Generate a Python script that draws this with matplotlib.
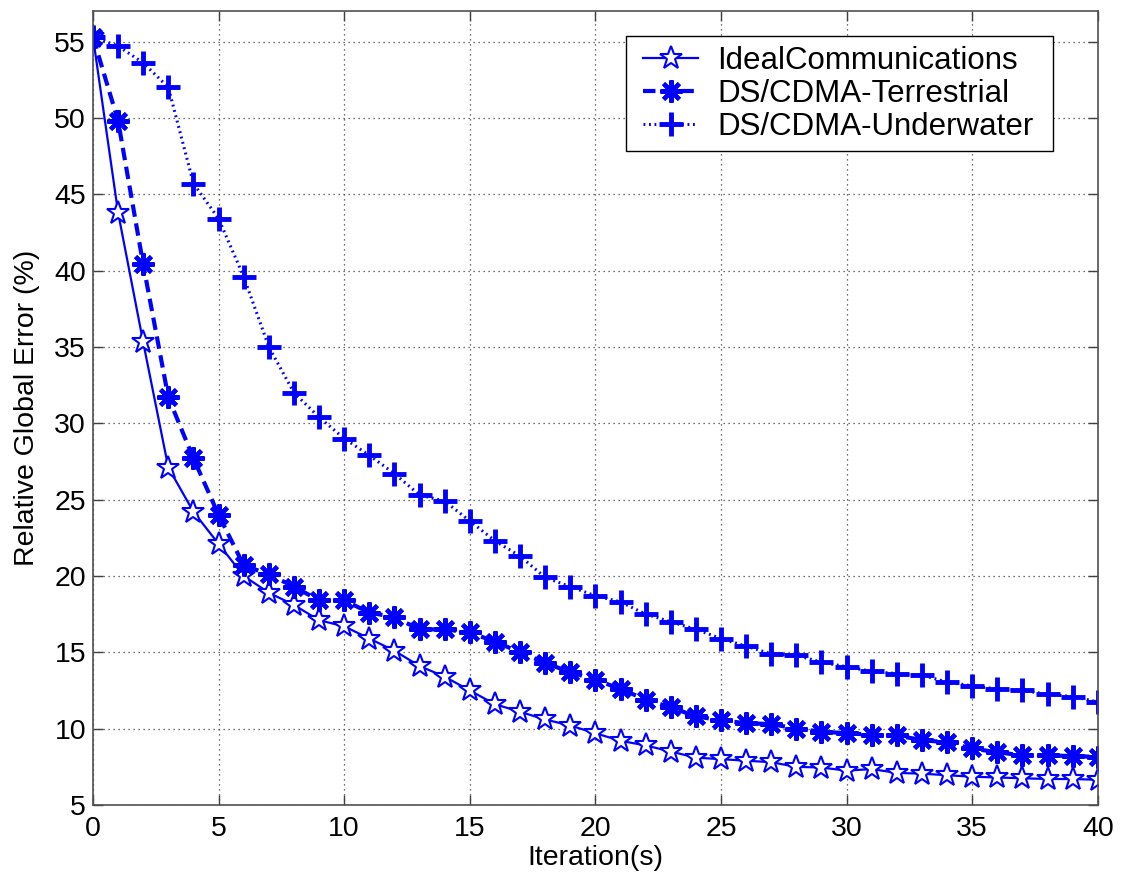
import matplotlib
matplotlib.use("Agg")
import matplotlib.pyplot as plt
from matplotlib.path import Path

plt.rcParams['font.family'] = ['Liberation Sans', 'DejaVu Sans']

iterations = list(range(0, 41))

ideal = [55.3, 43.8, 35.3, 27.1, 24.2, 22.1, 20.0, 18.9, 18.1, 17.1,
         16.7, 15.9, 15.1, 14.1, 13.4, 12.5, 11.6, 11.1, 10.6, 10.2,
         9.7, 9.2, 8.9, 8.5, 8.1, 8.0, 7.9, 7.8, 7.5, 7.45,
         7.25, 7.35, 7.1, 7.05, 6.95, 6.85, 6.8, 6.75, 6.7, 6.7, 6.65]

terrestrial = [55.3, 49.8, 40.4, 31.7, 27.7, 24.0, 20.7, 20.1, 19.3, 18.4,
               18.4, 17.6, 17.3, 16.5, 16.5, 16.3, 15.7, 15.0, 14.3, 13.7,
               13.2, 12.6, 11.9, 11.4, 10.8, 10.55, 10.35, 10.3, 10.0, 9.8,
               9.7, 9.6, 9.55, 9.25, 9.1, 8.7, 8.45, 8.25, 8.25, 8.2, 8.15]

underwater = [55.3, 54.7, 53.6, 52.0, 45.7, 43.4, 39.6, 35.0, 32.0, 30.4,
              29.0, 27.9, 26.7, 25.3, 24.9, 23.6, 22.3, 21.3, 19.9, 19.3,
              18.7, 18.3, 17.5, 17.0, 16.5, 15.9, 15.4, 14.9, 14.8, 14.35,
              14.05, 13.75, 13.6, 13.5, 13.05, 12.8, 12.6, 12.5, 12.25, 12.1, 11.75]

series_labels = ['IdealCommunications', 'DS/CDMA-Terrestrial', 'DS/CDMA-Underwater']
x_ticks = [0, 5, 10, 15, 20, 25, 30, 35, 40]
y_ticks = [5, 10, 15, 20, 25, 30, 35, 40, 45, 50, 55]

blue = '#0000ff'


def wide_box(x0, y0, width, height, mutation_size):
    """Rectangular legend frame with extra room on the left and right."""
    left = x0 - 0.25 * mutation_size
    right = x0 + width + 0.33 * mutation_size
    top = y0 + height
    verts = [(left, y0), (right, y0), (right, top), (left, top), (left, y0)]
    codes = [Path.MOVETO, Path.LINETO, Path.LINETO, Path.LINETO, Path.CLOSEPOLY]
    return Path(verts, codes)


fig = plt.figure(figsize=(11.24, 8.84), dpi=100)
ax = fig.add_axes([0.0827, 0.0894, 0.894, 0.8982])

ax.plot(iterations, ideal, color=blue, linestyle='-', linewidth=1.6,
        marker='*', markersize=17, markerfacecolor='white',
        markeredgecolor=blue, markeredgewidth=1.5, label=series_labels[0])
ax.plot(iterations, terrestrial, color=blue, linestyle=(0, (3, 1.6)), linewidth=3.0,
        marker=(8, 2, 0), markersize=16, markeredgecolor=blue,
        markeredgewidth=3.0, label=series_labels[1])
ax.plot(iterations, underwater, color=blue, linestyle=(0, (0.6, 1.2)), linewidth=2.2,
        marker='+', markersize=17, markeredgecolor=blue,
        markeredgewidth=3.5, label=series_labels[2])

ax.set_xlim(0, 40)
ax.set_ylim(5, 57)
ax.set_xticks(x_ticks)
ax.set_yticks(y_ticks)
ax.tick_params(axis='both', direction='in', length=7, width=1.0, color='#404040',
               labelsize=20.5, top=True, right=True, pad=5)
ax.tick_params(axis='x', pad=8)

ax.grid(True, linestyle=(0, (1, 3)), color='#404040', linewidth=0.9)
ax.set_axisbelow(True)
for sp in ax.spines.values():
    sp.set_color('#505050')
    sp.set_linewidth(1.2)

ax.set_xlabel('Iteration(s)', fontsize=20.5, labelpad=2)
ax.set_ylabel('Relative Global Error (%)', fontsize=20.5, labelpad=10)

leg = ax.legend(loc='upper right', bbox_to_anchor=(0.945, 0.968), fontsize=22.5,
                frameon=True, fancybox=False, framealpha=1.0, edgecolor='black',
                borderpad=0.3, labelspacing=0.1, handlelength=1.75,
                handletextpad=0.6, borderaxespad=0.0)
leg.get_frame().set_boxstyle(wide_box)
leg.get_frame().set_linewidth(1.0)

fig.savefig('out.png', dpi=100)
